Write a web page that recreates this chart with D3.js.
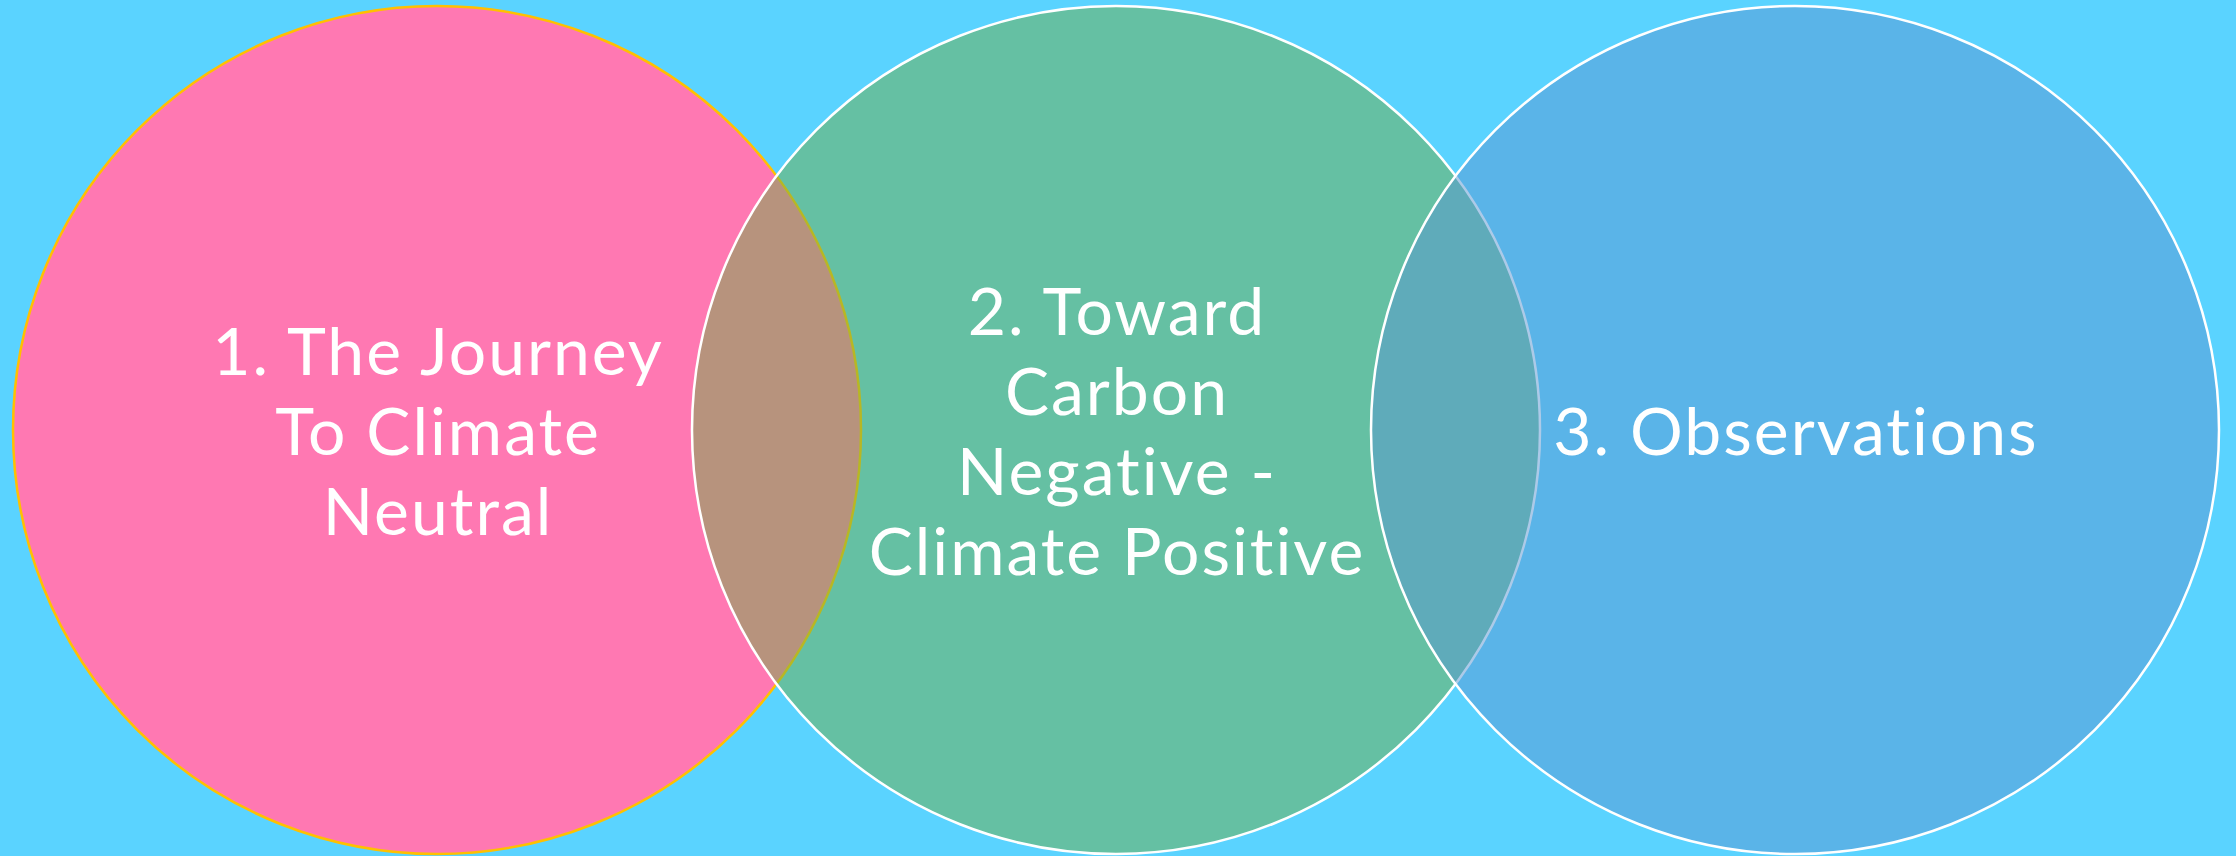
<!DOCTYPE html>
<html>
<head>
<meta charset="utf-8">
<script src="https://cdn.jsdelivr.net/npm/d3@7"></script>
<style>
  html, body { margin: 0; padding: 0; background: #5ad3ff; }
  svg { display: block; }
</style>
</head>
<body>
<div id="chart"></div>
<script>
(function () {

  // Venn items, left to right.
  const categories = ['climate_neutral', 'carbon_negative', 'observations'];
  const labels = [
    ['1. The Journey', 'To Climate', 'Neutral'],
    ['2. Toward', 'Carbon', 'Negative -', 'Climate Positive'],
    ['3. Observations']
  ];
  const fills = ['#ff78b2', '#70ad47', '#5a96d2'];
  const fillOpacity = [1, 0.5, 0.5];
  const strokes = ['#ffc000', '#ffffff', '#ffffff'];

  const width = 2236,
      height = 856,
      radius = 424,
      lineHeight = 80;

  const svg = d3.select('#chart').append('svg')
    .attr('width', width)
    .attr('height', height);

  svg.append('rect')
    .attr('width', width)
    .attr('height', height)
    .attr('fill', '#5ad3ff');

  // Circle centres along x.
  const x = d3.scalePoint()
    .domain(categories)
    .range([437, 1795]);
  const cy = 430;

  svg.append('g').attr('class', 'circles')
    .selectAll('circle')
    .data(categories)
    .join('circle')
      .attr('cx', d => x(d))
      .attr('cy', cy)
      .attr('r', radius)
      .attr('fill', (d, i) => fills[i])
      .attr('fill-opacity', (d, i) => fillOpacity[i])
      .attr('stroke', (d, i) => strokes[i])
      .attr('stroke-width', 2.5);

  // Labels, middle line baseline sits a bit under the centre.
  const text = svg.append('g').attr('class', 'labels')
    .selectAll('text')
    .data(categories)
    .join('text')
      .attr('x', d => x(d) + 1)
      .attr('y', (d, i) => cy + 25 - (labels[i].length - 1) * lineHeight / 2)
      .attr('text-anchor', 'middle')
      .attr('fill', '#ffffff')
      .style('font-family', 'Lato, "Open Sans", sans-serif')
      .style('font-size', '66px')
      .style('letter-spacing', '2px')
      .style('font-variant-ligatures', 'none');

  text.selectAll('tspan')
    .data((d, i) => labels[i])
    .join('tspan')
      .attr('x', function () { return d3.select(this.parentNode).attr('x'); })
      .attr('dy', (d, j) => j === 0 ? 0 : lineHeight)
      .text(d => d);

})();
</script>
</body>
</html>
